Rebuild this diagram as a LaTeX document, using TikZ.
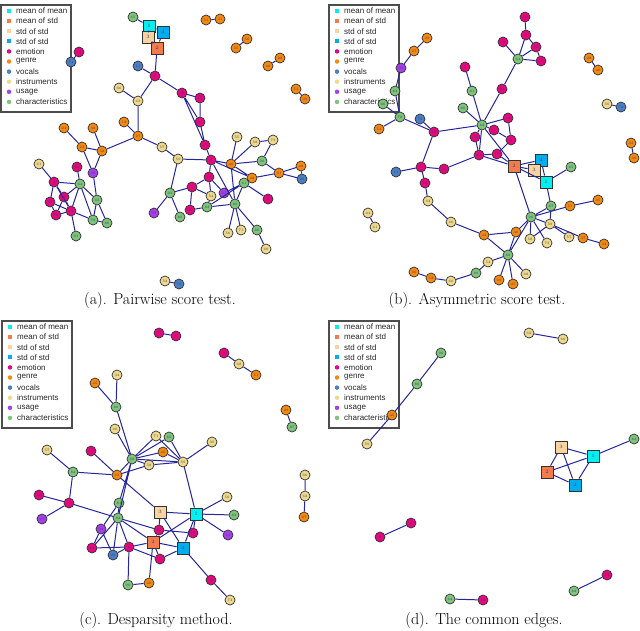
\documentclass[tikz,border=0pt]{standalone}
\usepackage{fontspec}
\newfontfamily\legfont{Liberation Sans}

\definecolor{mmcol}{HTML}{00F0F0}
\definecolor{mscol}{HTML}{F47C4C}
\definecolor{sacol}{HTML}{F8D3A0}
\definecolor{sbcol}{HTML}{00AEEF}
\definecolor{emocol}{HTML}{E5077D}
\definecolor{gencol}{HTML}{F5890F}
\definecolor{voccol}{HTML}{4B7FC4}
\definecolor{inscol}{HTML}{EFDA8C}
\definecolor{usecol}{HTML}{A540E8}
\definecolor{chrcol}{HTML}{7EC47A}
\definecolor{edgecol}{HTML}{2525A0}
\definecolor{labcol}{HTML}{3A3A70}

\tikzset{
  vtx/.style={circle, draw=black!80, line width=0.7pt, minimum size=10pt, inner sep=0pt, font=\fontsize{3.5}{4}\selectfont, text=labcol},
  sqv/.style={rectangle, draw=black!80, line width=0.9pt, minimum size=12pt, inner sep=0pt, font=\fontsize{5}{6}\selectfont, text=labcol},
  emo/.style={vtx, fill=emocol}, gen/.style={vtx, fill=gencol}, voc/.style={vtx, fill=voccol},
  ins/.style={vtx, fill=inscol}, usg/.style={vtx, fill=usecol}, chr/.style={vtx, fill=chrcol},
  mmv/.style={sqv, fill=mmcol}, msv/.style={sqv, fill=mscol}, sav/.style={sqv, fill=sacol}, sbv/.style={sqv, fill=sbcol},
  link/.style={draw=edgecol, line width=1pt},
  legframe/.style={draw=black!70, line width=1.2pt},
  legsq/.style={rectangle, minimum size=4pt, inner sep=0pt},
  legdot/.style={circle, minimum size=4.5pt, inner sep=0pt},
  legtext/.style={anchor=west, inner sep=0pt, font=\legfont\fontsize{8}{9}\selectfont, text=black!85},
  captext/.style={font=\fontsize{16}{18}\selectfont}
}

% legend: #1 = left of frame, #2 = first row, #3 = name prefix
\newcommand{\drawlegend}[3]{%
  \draw[legframe] (#1,#2-6) rectangle (#1+70,#2+101);
  \node[legsq, fill=mmcol] (#3m1) at (#1+8,#2) {};   \node[legtext] (#3t1) at (#1+15,#2) {mean of mean};
  \node[legsq, fill=mscol] (#3m2) at (#1+8,#2+10.1) {}; \node[legtext] (#3t2) at (#1+15,#2+10.1) {mean of std};
  \node[legsq, fill=sacol] (#3m3) at (#1+8,#2+20.2) {}; \node[legtext] (#3t3) at (#1+15,#2+20.2) {std of std};
  \node[legsq, fill=sbcol] (#3m4) at (#1+8,#2+30.3) {}; \node[legtext] (#3t4) at (#1+15,#2+30.3) {std of std};
  \node[legdot, fill=emocol] (#3m5) at (#1+8,#2+40.4) {}; \node[legtext] (#3t5) at (#1+15,#2+40.4) {emotion};
  \node[legdot, fill=gencol] (#3m6) at (#1+8,#2+50.5) {}; \node[legtext] (#3t6) at (#1+15,#2+50.5) {genre};
  \node[legdot, fill=voccol] (#3m7) at (#1+8,#2+60.6) {}; \node[legtext] (#3t7) at (#1+15,#2+60.6) {vocals};
  \node[legdot, fill=inscol] (#3m8) at (#1+8,#2+70.7) {}; \node[legtext] (#3t8) at (#1+15,#2+70.7) {instruments};
  \node[legdot, fill=usecol] (#3m9) at (#1+8,#2+80.8) {}; \node[legtext] (#3t9) at (#1+15,#2+80.8) {usage};
  \node[legdot, fill=chrcol] (#3m10) at (#1+8,#2+90.9) {}; \node[legtext] (#3t10) at (#1+15,#2+90.9) {characteristics};
}

\begin{document}
\begin{tikzpicture}[x=1pt, y=-1pt]
\useasboundingbox (0,0) rectangle (640,630);

% ---------- (a) pairwise score test ----------
\drawlegend{1}{11}{la}
\node[chr] (a65) at (133,17) {65};
\node[mmv] (a1) at (149,26) {1};
\node[sbv] (a4) at (163,32) {4};
\node[sav] (a3) at (148,37) {3};
\node[msv] (a2) at (157,48) {2};
\node[gen] (a51) at (206,20) {51}; \node[gen] (a41) at (220,19) {41};
\node[gen] (a50) at (247,39) {50}; \node[gen] (a35) at (236,48) {35};
\node[gen] (a28) at (280,58) {28}; \node[gen] (a40) at (268,66) {40};
\node[gen] (a53) at (296,89) {53}; \node[gen] (a39) at (305,99) {39};
\node[emo] (a19) at (79,52) {19}; \node[voc] (a74) at (71,62) {74};
\node[voc] (a11) at (138,66) {11};
\node[emo] (a7) at (155,76) {7};
\node[ins] (a66) at (119,88) {66};
\node[ins] (a63) at (138,101) {63};
\node[emo] (a22) at (182,93) {22};
\node[emo] (a16) at (200,98) {16};
\node[emo] (a21) at (200,122) {21};
\node[gen] (a27) at (138,136) {27};
\node[gen] (a12) at (124,122) {12};
\node[gen] (a24) at (64,128) {24};
\node[gen] (a38) at (93,128) {38};
\node[gen] (a23) at (82,147) {23};
\node[gen] (a32) at (102,151) {32};
\node[ins] (a61) at (39,164) {61};
\node[emo] (a20) at (77,167) {20};
\node[usg] (a99) at (93,173) {99};
\node[emo] (a9) at (54,182) {9};
\node[chr] (a64) at (80,184) {64};
\node[emo] (a18) at (64,197) {18};
\node[emo] (a15) at (50,202) {15};
\node[chr] (a43) at (97,200) {43};
\node[emo] (a10) at (56,215) {10};
\node[emo] (a13) at (71,211) {13};
\node[chr] (a78) at (93,220) {78};
\node[chr] (a86) at (107,223) {86};
\node[chr] (a91) at (76,236) {91};
\node[ins] (a57) at (162,147) {57};
\node[ins] (a59) at (178,159) {59};
\node[emo] (a17) at (205,145) {17};
\node[emo] (a8) at (211,160) {8};
\node[ins] (a55) at (237,137) {55};
\node[ins] (a58) at (255,142) {58};
\node[ins] (a73) at (273,140) {73};
\node[gen] (a46) at (231,164) {46};
\node[chr] (a90) at (262,161) {90};
\node[emo] (a14) at (209,177) {14};
\node[gen] (a42) at (252,178) {42};
\node[gen] (a31) at (279,173) {31};
\node[gen] (a48) at (301,166) {48};
\node[voc] (a26) at (302,179) {26};
\node[chr] (a81) at (244,183) {81};
\node[emo] (a6) at (192,187) {6};
\node[chr] (a93) at (170,193) {93};
\node[ins] (a54) at (211,196) {54};
\node[usg] (a97) at (224,193) {97};
\node[emo] (a5) at (268,199) {5};
\node[usg] (a37) at (154,213) {37};
\node[chr] (a80) at (180,217) {80};
\node[emo] (a25) at (190,210) {25};
\node[chr] (a82) at (207,207) {82};
\node[chr] (a88) at (235,204) {88};
\node[ins] (a56) at (228,233) {56};
\node[ins] (a71) at (241,230) {71};
\node[chr] (a89) at (257,230) {89};
\node[ins] (a60) at (266,249) {60};
\node[ins] (a52) at (165,281) {52}; \node[voc] (a72) at (179,284) {72};

\draw[link] (a65) -- (a1) (a1) -- (a4) (a1) -- (a3) (a3) -- (a2) (a4) -- (a2) (a2) -- (a7)
  (a19) -- (a74) (a51) -- (a41) (a50) -- (a35) (a28) -- (a40) (a53) -- (a39) (a52) -- (a72)
  (a11) -- (a7) (a7) -- (a63) (a7) -- (a22) (a63) -- (a66) (a63) -- (a27) (a22) -- (a16)
  (a22) -- (a21) (a16) -- (a21) (a21) -- (a17) (a22) -- (a17)
  (a27) -- (a12) (a27) -- (a32) (a27) -- (a57) (a57) -- (a59)
  (a24) -- (a23) (a38) -- (a32) (a23) -- (a32) (a23) -- (a99) (a32) -- (a99) (a99) -- (a43)
  (a20) -- (a64) (a9) -- (a64) (a61) -- (a9) (a9) -- (a18) (a9) -- (a15) (a9) -- (a13)
  (a18) -- (a13) (a18) -- (a10) (a15) -- (a10) (a15) -- (a13) (a10) -- (a13)
  (a64) -- (a18) (a64) -- (a13) (a64) -- (a43) (a64) -- (a78) (a43) -- (a78) (a43) -- (a86)
  (a13) -- (a78) (a13) -- (a91) (a78) -- (a86)
  (a59) -- (a8) (a59) -- (a93) (a17) -- (a8) (a8) -- (a14) (a8) -- (a46) (a8) -- (a42)
  (a8) -- (a88) (a14) -- (a6) (a14) -- (a54) (a14) -- (a97) (a6) -- (a93) (a6) -- (a25)
  (a6) -- (a54) (a93) -- (a37) (a93) -- (a80) (a25) -- (a82) (a82) -- (a88) (a82) -- (a81)
  (a54) -- (a82) (a46) -- (a55) (a46) -- (a58) (a46) -- (a90) (a46) -- (a88) (a46) -- (a42)
  (a58) -- (a73) (a73) -- (a90) (a90) -- (a31) (a42) -- (a31) (a31) -- (a48) (a31) -- (a26)
  (a48) -- (a26) (a42) -- (a81) (a81) -- (a88) (a81) -- (a5) (a81) -- (a97)
  (a88) -- (a56) (a88) -- (a71) (a88) -- (a89) (a89) -- (a60);
\node[captext] (capa) at (160,301) {(a). Pairwise score test.};

% ---------- (b) asymmetric score test ----------
\drawlegend{329}{11}{lb}
\node[emo] (b15) at (525,17) {15};
\node[emo] (b9) at (526,35) {9};
\node[emo] (b18) at (503,42) {18};
\node[emo] (b13) at (536,47) {13};
\node[emo] (b10) at (541,61) {10};
\node[chr] (b64) at (518,59) {64};
\node[gen] (b29) at (427,38) {29};
\node[gen] (b27) at (414,51) {27};
\node[usg] (b99) at (401,68) {99};
\node[emo] (b5) at (465,67) {5};
\node[gen] (b28) at (589,58) {28}; \node[gen] (b40) at (598,70) {40};
\node[emo] (b20) at (502,89) {20};
\node[chr] (b83) at (395,91) {83};
\node[chr] (b81) at (472,91) {81};
\node[chr] (b86) at (383,104) {86};
\node[ins] (b56) at (607,104) {56}; \node[voc] (b72) at (621,107) {72};
\node[chr] (b78) at (400,117) {78};
\node[chr] (b80) at (463,108) {80};
\node[voc] (b70) at (420,119) {70};
\node[emo] (b14) at (508,118) {14};
\node[chr] (b82) at (482,125) {82};
\node[gen] (b53) at (379,129) {53};
\node[emo] (b19) at (434,132) {19};
\node[emo] (b6) at (494,130) {6};
\node[emo] (b12) at (475,137) {12};
\node[emo] (b8) at (511,140) {8};
\node[gen] (b33) at (631,143) {33}; \node[gen] (b39) at (634,158) {39};
\node[emo] (b21) at (479,155) {21};
\node[emo] (b17) at (497,154) {17};
\node[sbv] (b4) at (541,160) {4};
\node[msv] (b2) at (514,166) {2};
\node[sav] (b3) at (534,170) {3};
\node[mmv] (b1) at (546,182) {1};
\node[chr] (b65) at (571,167) {65};
\node[voc] (b11) at (396,172) {11};
\node[emo] (b7) at (421,167) {7};
\node[emo] (b22) at (444,169) {22};
\node[emo] (b16) at (425,183) {16};
\node[ins] (b44) at (368,213) {44}; \node[ins] (b61) at (375,227) {61};
\node[ins] (b62) at (428,201) {62};
\node[chr] (b87) at (551,206) {87};
\node[gen] (b35) at (598,200) {35};
\node[gen] (b31) at (570,206) {31};
\node[chr] (b90) at (531,217) {90};
\node[ins] (b66) at (451,222) {66};
\node[ins] (b59) at (550,224) {59};
\node[gen] (b42) at (484,235) {42};
\node[gen] (b46) at (516,232) {46};
\node[ins] (b58) at (530,239) {58};
\node[ins] (b73) at (547,243) {73};
\node[ins] (b57) at (569,237) {57};
\node[gen] (b37) at (583,238) {37};
\node[gen] (b32) at (604,244) {32};
\node[chr] (b88) at (508,255) {88};
\node[ins] (b54) at (488,262) {54};
\node[chr] (b89) at (476,273) {89};
\node[gen] (b36) at (414,272) {36};
\node[gen] (b52) at (431,278) {52};
\node[ins] (b60) at (451,281) {60};
\node[gen] (b69) at (499,280) {69};
\node[gen] (b45) at (513,284) {45};
\node[ins] (b68) at (526,274) {68};

\draw[link] (b15) -- (b9) (b9) -- (b13) (b9) -- (b64) (b18) -- (b64) (b13) -- (b64) (b10) -- (b64)
  (b13) -- (b10) (b64) -- (b20) (b20) -- (b82) (b29) -- (b27) (b27) -- (b99) (b99) -- (b83)
  (b83) -- (b78) (b86) -- (b78) (b78) -- (b53) (b78) -- (b19) (b70) -- (b19) (b19) -- (b82)
  (b19) -- (b7) (b5) -- (b81) (b81) -- (b82) (b80) -- (b82) (b82) -- (b14) (b82) -- (b6)
  (b82) -- (b12) (b82) -- (b21) (b82) -- (b2) (b14) -- (b8) (b6) -- (b8) (b8) -- (b17)
  (b12) -- (b21) (b21) -- (b17) (b21) -- (b22) (b21) -- (b2) (b17) -- (b2)
  (b2) -- (b4) (b2) -- (b3) (b2) -- (b1) (b4) -- (b1) (b1) -- (b65)
  (b11) -- (b7) (b7) -- (b22) (b7) -- (b16) (b16) -- (b62) (b62) -- (b66) (b66) -- (b42)
  (b2) -- (b90) (b1) -- (b87) (b87) -- (b90) (b87) -- (b59) (b90) -- (b31) (b31) -- (b35)
  (b90) -- (b46) (b90) -- (b58) (b90) -- (b73) (b90) -- (b88) (b90) -- (b59)
  (b59) -- (b57) (b59) -- (b37) (b59) -- (b58) (b37) -- (b32)
  (b42) -- (b46) (b42) -- (b88) (b46) -- (b88) (b88) -- (b54) (b54) -- (b89) (b89) -- (b60)
  (b60) -- (b52) (b52) -- (b36) (b88) -- (b69) (b88) -- (b45) (b88) -- (b68)
  (b44) -- (b61) (b28) -- (b40) (b56) -- (b72) (b33) -- (b39);
\node[captext] (capb) at (477,301) {(b). Asymmetric score test.};

% ---------- (c) desparsity method ----------
\drawlegend{2}{327}{lc}
\node[emo] (c17) at (159,333) {17}; \node[emo] (c5) at (176,336) {5};
\node[emo] (c9) at (224,353) {9}; \node[ins] (c68) at (239,364) {68}; \node[gen] (c51) at (256,375) {51};
\node[ins] (c34) at (117,375) {34};
\node[gen] (c45) at (95,383) {45};
\node[chr] (c89) at (116,407) {89};
\node[gen] (c49) at (286,410) {49}; \node[chr] (c87) at (292,427) {87};
\node[ins] (c60) at (115,429) {60};
\node[ins] (c71) at (156,436) {71};
\node[chr] (c85) at (169,437) {85};
\node[ins] (c35) at (212,442) {35};
\node[ins] (c57) at (47,450) {57};
\node[emo] (c16) at (91,451) {16};
\node[gen] (c46) at (163,452) {46};
\node[chr] (c88) at (132,459) {88};
\node[ins] (c59) at (183,462) {59};
\node[ins] (c58) at (149,465) {58};
\node[ins] (c66) at (305,475) {66}; \node[ins] (c62) at (305,496) {62}; \node[gen] (c27) at (304,517) {27};
\node[chr] (c84) at (73,472) {84};
\node[gen] (c63) at (117,475) {63};
\node[ins] (c56) at (227,497) {56};
\node[emo] (c18) at (39,495) {18};
\node[emo] (c10) at (69,503) {10};
\node[chr] (c81) at (119,503) {81};
\node[sav] (c3) at (160,512) {3};
\node[mmv] (c1) at (196,514) {1};
\node[chr] (c83) at (234,515) {83};
\node[chr] (c82) at (118,518) {82};
\node[usg] (c97) at (42,519) {97};
\node[emo] (c29) at (159,530) {29};
\node[emo] (c12) at (193,533) {12};
\node[usg] (c19) at (228,535) {19};
\node[usg] (c99) at (101,529) {99};
\node[msv] (c2) at (153,542) {2};
\node[emo] (c14) at (92,548) {14};
\node[emo] (c8) at (129,547) {8};
\node[sbv] (c4) at (183,548) {4};
\node[voc] (c25) at (113,555) {25};
\node[emo] (c6) at (160,559) {6};
\node[emo] (c52) at (211,580) {52};
\node[chr] (c90) at (128,585) {90};
\node[gen] (c40) at (149,583) {40};
\node[ins] (c73) at (230,600) {73};

\draw[link] (c17) -- (c5) (c9) -- (c68) (c68) -- (c51) (c49) -- (c87) (c66) -- (c62) (c62) -- (c27)
  (c34) -- (c89) (c45) -- (c89) (c89) -- (c88) (c60) -- (c88) (c88) -- (c71) (c88) -- (c85)
  (c88) -- (c46) (c88) -- (c59) (c88) -- (c58) (c88) -- (c63) (c88) -- (c82) (c88) -- (c81)
  (c71) -- (c59) (c85) -- (c59) (c46) -- (c59) (c58) -- (c59) (c35) -- (c59) (c59) -- (c1)
  (c57) -- (c84) (c84) -- (c63) (c84) -- (c10) (c16) -- (c63) (c63) -- (c58) (c63) -- (c3)
  (c18) -- (c10) (c10) -- (c97) (c10) -- (c82) (c81) -- (c82) (c81) -- (c99)
  (c82) -- (c29) (c82) -- (c2) (c82) -- (c8) (c82) -- (c14) (c82) -- (c25)
  (c99) -- (c25) (c99) -- (c14) (c14) -- (c8) (c8) -- (c25) (c8) -- (c2) (c8) -- (c6) (c8) -- (c90)
  (c3) -- (c29) (c3) -- (c1) (c3) -- (c4) (c1) -- (c56) (c1) -- (c83) (c1) -- (c19) (c1) -- (c2)
  (c1) -- (c12) (c1) -- (c4) (c29) -- (c12) (c29) -- (c2) (c2) -- (c4) (c2) -- (c40) (c2) -- (c6)
  (c4) -- (c6) (c4) -- (c52) (c52) -- (c73) (c90) -- (c40);
\node[captext] (capc) at (156,620) {(c). Desparsity method.};

% ---------- (d) common edges ----------
\drawlegend{329}{327}{ld}
\node[ins] (d62) at (529,333) {62}; \node[ins] (d66) at (563,339) {66};
\node[chr] (d90) at (441,353) {90};
\node[chr] (d88) at (417,384) {88};
\node[gen] (d46) at (392,415) {46};
\node[ins] (d59) at (367,444) {59};
\node[chr] (d83) at (634,439) {83};
\node[sav] (d3) at (561,447) {3};
\node[mmv] (d1) at (593,456) {1};
\node[msv] (d2) at (547,472) {2};
\node[sbv] (d4) at (575,485) {4};
\node[emo] (d6) at (411,523) {6}; \node[emo] (d8) at (380,537) {8};
\node[emo] (d14) at (607,575) {14}; \node[chr] (d82) at (574,591) {82};
\node[chr] (d64) at (450,599) {64}; \node[emo] (d20) at (483,600) {20};

\draw[link] (d90) -- (d88) (d88) -- (d46) (d46) -- (d59) (d62) -- (d66)
  (d3) -- (d1) (d3) -- (d2) (d3) -- (d4) (d2) -- (d1) (d2) -- (d4) (d1) -- (d4) (d1) -- (d83)
  (d6) -- (d8) (d14) -- (d82) (d64) -- (d20);
\node[captext] (capd) at (484,620) {(d). The common edges.};
\end{tikzpicture}
\end{document}
